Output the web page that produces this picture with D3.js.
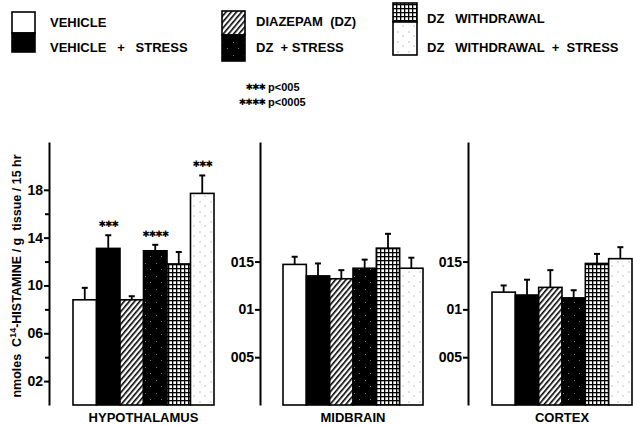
<!DOCTYPE html>
<meta charset="utf-8">
<style>
body { margin: 0; background: #fff; }
text { font-family: "Liberation Sans", Helvetica, Arial, sans-serif; font-weight: bold; fill: #000; }
.axis path, .axis line { stroke: #000; stroke-width: 2; }
.axis text { font-size: 14px; font-family: "Liberation Sans", Arial, sans-serif; }
.star { font-family: "DejaVu Sans", sans-serif; font-size: 9px; letter-spacing: -1px; }
</style>
<body>
<script src="https://d3js.org/d3.v7.min.js"></script>
<script>

var groups = ["VEHICLE", "VEHICLE + STRESS", "DIAZEPAM (DZ)", "DZ + STRESS",
              "DZ WITHDRAWAL", "DZ WITHDRAWAL + STRESS"];
var regions = ["HYPOTHALAMUS", "MIDBRAIN", "CORTEX"];

// nmoles C14-histamine / g tissue / 1.5 hr, mean and SEM
var hypoMean = [0.88, 1.31, 0.88, 1.29, 1.18, 1.77];
var hypoErr  = [0.10, 0.11, 0.03, 0.05, 0.10, 0.15];
var midMean  = [0.147, 0.135, 0.132, 0.143, 0.164, 0.143];
var midErr   = [0.008, 0.013, 0.009, 0.009, 0.015, 0.011];
var ctxMean  = [0.118, 0.115, 0.123, 0.112, 0.148, 0.153];
var ctxErr   = [0.007, 0.016, 0.018, 0.008, 0.010, 0.012];
var hypoStars = ["", "✱✱✱", "", "✱✱✱✱", "", "✱✱✱"];
var noStars = ["", "", "", "", "", ""];

var hypoTicks = [0.2, 0.6, 1.0, 1.4, 1.8];
var hypoTickLabels = ["02", "06", "10", "14", "18"];
var hypoMinor = [0.4, 0.8, 1.2, 1.6];
var smallTicks = [0.05, 0.1, 0.15];
var smallTickLabels = ["005", "01", "015"];

var width = 633, height = 425;

var svg = d3.select("body").append("svg")
    .attr("width", width)
    .attr("height", height);

// fill patterns
var defs = svg.append("defs");

var hatch = defs.append("pattern").attr("id", "hatch")
    .attr("patternUnits", "userSpaceOnUse")
    .attr("width", 4).attr("height", 4)
    .attr("patternTransform", "rotate(40)");
hatch.append("rect").attr("width", 4).attr("height", 4).attr("fill", "#fff");
hatch.append("rect").attr("width", 1.6).attr("height", 4).attr("fill", "#000");

var grid = defs.append("pattern").attr("id", "grid")
    .attr("patternUnits", "userSpaceOnUse")
    .attr("width", 4).attr("height", 4);
grid.append("rect").attr("width", 4).attr("height", 4).attr("fill", "#000");
grid.append("rect").attr("x", 1.3).attr("y", 1.3).attr("width", 2.7).attr("height", 2.7).attr("fill", "#fff");

var dark = defs.append("pattern").attr("id", "darkdots")
    .attr("patternUnits", "userSpaceOnUse")
    .attr("width", 11).attr("height", 13);
dark.append("rect").attr("width", 11).attr("height", 13).attr("fill", "#000");
[[2, 3], [7, 9]].forEach(function(p) {
  dark.append("rect").attr("x", p[0]).attr("y", p[1]).attr("width", 1).attr("height", 1).attr("fill", "#777");
});

var light = defs.append("pattern").attr("id", "lightdots")
    .attr("patternUnits", "userSpaceOnUse")
    .attr("width", 11).attr("height", 10);
light.append("rect").attr("width", 11).attr("height", 10).attr("fill", "#fff");
[[2, 2], [7, 6]].forEach(function(p) {
  light.append("circle").attr("cx", p[0]).attr("cy", p[1]).attr("r", 0.7).attr("fill", "#aaa");
});

var fills = ["#fff", "#000", "url(#hatch)", "url(#darkdots)", "url(#grid)", "url(#lightdots)"];

var baseY = 405, topY = 142;

var panels = [
  { name: regions[0], mean: hypoMean, err: hypoErr, stars: hypoStars, axisX: 49, x0: 73, x1: 214,
    ymax: 2.2, ticks: hypoTicks, labels: hypoTickLabels, minor: hypoMinor },
  { name: regions[1], mean: midMean, err: midErr, stars: noStars, axisX: 260, x0: 283, x1: 423,
    ymax: 0.275, ticks: smallTicks, labels: smallTickLabels, minor: [] },
  { name: regions[2], mean: ctxMean, err: ctxErr, stars: noStars, axisX: 468, x0: 492, x1: 632,
    ymax: 0.275, ticks: smallTicks, labels: smallTickLabels, minor: [] }
];

panels.forEach(function(p) {
  var x = d3.scaleBand().domain(groups).range([p.x0, p.x1]).padding(0);
  var y = d3.scaleLinear().domain([0, p.ymax]).range([baseY, topY]);
  var g = svg.append("g");

  g.append("g").attr("class", "axis")
      .attr("transform", "translate(" + p.axisX + ",0)")
      .call(d3.axisLeft(y).tickValues(p.ticks).tickSize(5).tickSizeOuter(0).tickPadding(1)
        .tickFormat(function(d, i) { return p.labels[i]; }));
  if (p.minor.length) {
    g.append("g").attr("class", "axis")
        .attr("transform", "translate(" + p.axisX + ",0)")
        .call(d3.axisLeft(y).tickValues(p.minor).tickSize(4).tickSizeOuter(0).tickFormat(""))
        .select(".domain").remove();
  }

  var rows = groups.map(function(k, i) {
    return { key: k, mean: p.mean[i], err: p.err[i], stars: p.stars[i], fill: fills[i] };
  });

  // error bars (drawn first so bars cover the stem base)
  g.selectAll(".eb").data(rows).enter().append("line")
      .attr("x1", function(d) { return x(d.key) + x.bandwidth() / 2; })
      .attr("x2", function(d) { return x(d.key) + x.bandwidth() / 2; })
      .attr("y1", function(d) { return y(d.mean); })
      .attr("y2", function(d) { return y(d.mean + d.err); })
      .attr("stroke", "#000").attr("stroke-width", 1.8);
  g.selectAll(".cap").data(rows).enter().append("line")
      .attr("x1", function(d) { return x(d.key) + x.bandwidth() / 2 - 3; })
      .attr("x2", function(d) { return x(d.key) + x.bandwidth() / 2 + 3; })
      .attr("y1", function(d) { return y(d.mean + d.err); })
      .attr("y2", function(d) { return y(d.mean + d.err); })
      .attr("stroke", "#000").attr("stroke-width", 2);

  g.selectAll(".bar").data(rows).enter().append("rect")
      .attr("x", function(d) { return x(d.key); })
      .attr("width", x.bandwidth())
      .attr("y", function(d) { return y(d.mean); })
      .attr("height", function(d) { return baseY - y(d.mean); })
      .attr("fill", function(d) { return d.fill; })
      .attr("stroke", "#000").attr("stroke-width", 1.6);

  g.selectAll(".star").data(rows).enter().append("text")
      .attr("class", "star")
      .attr("text-anchor", "middle")
      .attr("x", function(d) { return x(d.key) + x.bandwidth() / 2; })
      .attr("y", function(d) { return y(d.mean + d.err) - 8; })
      .text(function(d) { return d.stars; });

  g.append("text")
      .attr("x", (p.x0 + p.x1) / 2)
      .attr("y", 422)
      .attr("text-anchor", "middle")
      .style("font-size", "13px")
      .text(p.name);
});

// y axis title
var yt = svg.append("text")
    .attr("transform", "translate(21,276) rotate(-90)")
    .attr("text-anchor", "middle")
    .style("font-size", "12.5px")
    .attr("xml:space", "preserve");
yt.append("tspan").text("nmoles  C");
yt.append("tspan").attr("dy", -5).style("font-size", "9px").text("14");
yt.append("tspan").attr("dy", 5).text("-HISTAMINE / g  tissue / 15 hr");

// legend
var legend = svg.append("g");
legend.append("rect").attr("x", 12).attr("y", 12).attr("width", 23).attr("height", 21)
    .attr("fill", fills[0]).attr("stroke", "#000").attr("stroke-width", 1.6);
legend.append("rect").attr("x", 12).attr("y", 33).attr("width", 23).attr("height", 19)
    .attr("fill", fills[1]).attr("stroke", "#000").attr("stroke-width", 1.6);
legend.append("rect").attr("x", 222).attr("y", 11).attr("width", 23).attr("height", 24)
    .attr("fill", fills[2]).attr("stroke", "#000").attr("stroke-width", 1.6);
legend.append("rect").attr("x", 222).attr("y", 35).attr("width", 23).attr("height", 26)
    .attr("fill", fills[3]).attr("stroke", "#000").attr("stroke-width", 1.6);
legend.append("rect").attr("x", 393).attr("y", 3).attr("width", 24).attr("height", 19)
    .attr("fill", fills[4]).attr("stroke", "#000").attr("stroke-width", 1.6);
legend.append("rect").attr("x", 393).attr("y", 22).attr("width", 24).attr("height", 33)
    .attr("fill", fills[5]).attr("stroke", "#000").attr("stroke-width", 1.6);

var legendText = [
  { t: "VEHICLE", x: 50, y: 27 },
  { t: "VEHICLE   +   STRESS", x: 50, y: 52 },
  { t: "DIAZEPAM  (DZ)", x: 256, y: 26 },
  { t: "DZ  + STRESS", x: 256, y: 52 },
  { t: "DZ   WITHDRAWAL", x: 427, y: 23 },
  { t: "DZ   WITHDRAWAL  +  STRESS", x: 427, y: 52 }
];
legend.selectAll(".lt").data(legendText).enter().append("text")
    .attr("x", function(d) { return d.x; })
    .attr("y", function(d) { return d.y; })
    .attr("xml:space", "preserve")
    .style("font-size", "13px")
    .text(function(d) { return d.t; });

var sig = svg.append("g");
sig.append("text").attr("class", "star").attr("text-anchor", "end").attr("x", 265).attr("y", 90).text("✱✱✱");
sig.append("text").attr("x", 268).attr("y", 91).style("font-size", "11px").text("p<005");
sig.append("text").attr("class", "star").attr("text-anchor", "end").attr("x", 265).attr("y", 105).text("✱✱✱✱");
sig.append("text").attr("x", 268).attr("y", 106).style("font-size", "11px").text("p<0005");

</script>
